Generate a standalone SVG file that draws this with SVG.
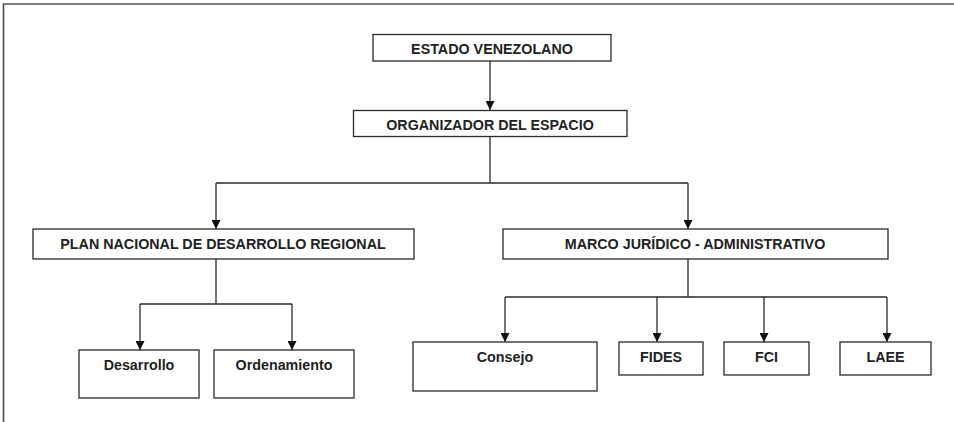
<svg xmlns="http://www.w3.org/2000/svg" width="954" height="422" viewBox="0 0 954 422">
<defs>
<style>
.box{fill:#fff;stroke:#2a2a2a;stroke-width:1.3}
.lbl{font-family:"Liberation Sans",Arial,sans-serif;font-weight:bold;font-size:14.3px;fill:#222;text-anchor:middle}
.con{fill:none;stroke:#2a2a2a;stroke-width:1.3}
.frame{fill:none;stroke:#555;stroke-width:1.7}
</style>
<marker id="arr" viewBox="0 0 10 10" refX="10" refY="5" markerWidth="9" markerHeight="9" markerUnits="userSpaceOnUse" orient="auto">
<path d="M0,0 L10,5 L0,10 z" fill="#111"/>
</marker>
</defs>
<rect width="954" height="422" fill="#fff"/>
<path class="frame" d="M3.5,422 V4 H954"/>

<g id="connectors">
<path class="con" d="M490,61 V110" marker-end="url(#arr)"/>
<path class="con" d="M490,136.5 V183"/>
<path class="con" d="M216,183 H688"/>
<path class="con" d="M216,183 V229" marker-end="url(#arr)"/>
<path class="con" d="M688,183 V229" marker-end="url(#arr)"/>
<path class="con" d="M216,259 V304"/>
<path class="con" d="M140,304 H292"/>
<path class="con" d="M140,304 V350" marker-end="url(#arr)"/>
<path class="con" d="M292,304 V350" marker-end="url(#arr)"/>
<path class="con" d="M688,259 V297"/>
<path class="con" d="M505,297 H887"/>
<path class="con" d="M505,297 V342" marker-end="url(#arr)"/>
<path class="con" d="M657,297 V342" marker-end="url(#arr)"/>
<path class="con" d="M764,297 V342" marker-end="url(#arr)"/>
<path class="con" d="M887,297 V342" marker-end="url(#arr)"/>
</g>

<g id="estado">
<rect class="box" x="373" y="34.5" width="238" height="26.5"/>
<text class="lbl" x="492" y="53.5">ESTADO VENEZOLANO</text>
</g>
<g id="organizador">
<rect class="box" x="353.5" y="110.5" width="273.5" height="26"/>
<text class="lbl" x="490" y="129.5">ORGANIZADOR DEL ESPACIO</text>
</g>
<g id="plan">
<rect class="box" x="33" y="229" width="381" height="30"/>
<text class="lbl" x="223" y="249">PLAN NACIONAL DE DESARROLLO REGIONAL</text>
</g>
<g id="marco">
<rect class="box" x="503" y="229" width="385" height="30"/>
<text class="lbl" x="695" y="249">MARCO JURÍDICO - ADMINISTRATIVO</text>
</g>
<g id="desarrollo">
<rect class="box" x="79" y="350" width="120" height="48"/>
<text class="lbl" x="139" y="370">Desarrollo</text>
</g>
<g id="ordenamiento">
<rect class="box" x="214" y="350" width="140" height="48"/>
<text class="lbl" x="284" y="370">Ordenamiento</text>
</g>
<g id="consejo">
<rect class="box" x="413" y="342" width="184" height="49"/>
<text class="lbl" x="505" y="362">Consejo</text>
</g>
<g id="fides">
<rect class="box" x="619" y="342" width="84" height="33"/>
<text class="lbl" x="661" y="362">FIDES</text>
</g>
<g id="fci">
<rect class="box" x="724" y="342" width="85" height="33"/>
<text class="lbl" x="766.5" y="362">FCI</text>
</g>
<g id="laee">
<rect class="box" x="840" y="342" width="91" height="33"/>
<text class="lbl" x="885.5" y="362">LAEE</text>
</g>
</svg>
